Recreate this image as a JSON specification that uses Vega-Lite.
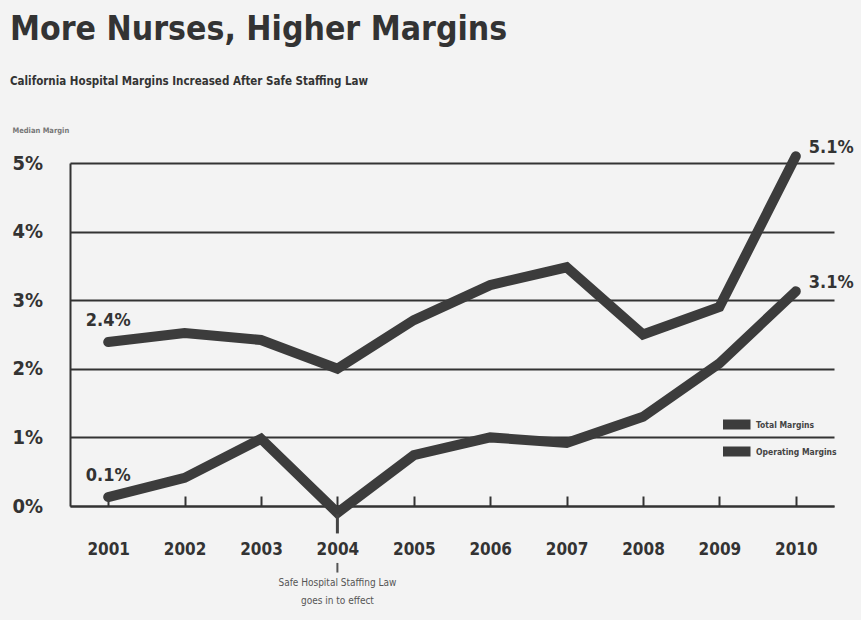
{
  "$schema": "https://vega.github.io/schema/vega-lite/v6.json",
  "autosize": {"type": "none"},
  "width": 764,
  "height": 343,
  "padding": {"left": 70, "top": 163, "right": 27, "bottom": 114},
  "background": "#f3f3f3",
  "config": {
    "view": {"stroke": null},
    "font": "DejaVu Sans Condensed, Roboto, sans-serif",
    "text": {"font": "DejaVu Sans Condensed, Roboto, sans-serif"}
  },
  "title": {
    "text": "More Nurses, Higher Margins",
    "subtitle": "California Hospital Margins Increased After Safe Staffing Law",
    "anchor": "start",
    "frame": "group",
    "dx": -60,
    "offset": 38,
    "font": "DejaVu Sans Condensed, Roboto, sans-serif",
    "fontSize": 33.5,
    "fontWeight": "bold",
    "color": "#333333",
    "subtitleFont": "DejaVu Sans Condensed, Roboto, sans-serif",
    "subtitleFontSize": 11.5,
    "subtitleFontWeight": "bold",
    "subtitleColor": "#333333",
    "subtitlePadding": 28
  },
  "datasets": {
    "margins": [
      {"year": "2001", "series": "Total Margins", "value": 0.0239},
      {"year": "2002", "series": "Total Margins", "value": 0.0252},
      {"year": "2003", "series": "Total Margins", "value": 0.0242},
      {"year": "2004", "series": "Total Margins", "value": 0.0200},
      {"year": "2005", "series": "Total Margins", "value": 0.0271},
      {"year": "2006", "series": "Total Margins", "value": 0.0322},
      {"year": "2007", "series": "Total Margins", "value": 0.0348},
      {"year": "2008", "series": "Total Margins", "value": 0.0250},
      {"year": "2009", "series": "Total Margins", "value": 0.0290},
      {"year": "2010", "series": "Total Margins", "value": 0.0510},
      {"year": "2001", "series": "Operating Margins", "value": 0.0013},
      {"year": "2002", "series": "Operating Margins", "value": 0.0041},
      {"year": "2003", "series": "Operating Margins", "value": 0.0098},
      {"year": "2004", "series": "Operating Margins", "value": -0.0010},
      {"year": "2005", "series": "Operating Margins", "value": 0.0074},
      {"year": "2006", "series": "Operating Margins", "value": 0.0100},
      {"year": "2007", "series": "Operating Margins", "value": 0.0092},
      {"year": "2008", "series": "Operating Margins", "value": 0.0130},
      {"year": "2009", "series": "Operating Margins", "value": 0.0208},
      {"year": "2010", "series": "Operating Margins", "value": 0.0313}
    ],
    "note": [
      {"year": "2004", "note": ["Safe Hospital Staffing Law", "goes in to effect"]}
    ]
  },
  "encoding": {
    "x": {
      "field": "year",
      "type": "ordinal",
      "scale": {"type": "point", "padding": 0.5},
      "axis": {
        "title": null,
        "labelAngle": 0,
        "labelFontSize": 17,
        "labelFontWeight": "bold",
        "labelColor": "#333333",
        "labelBaseline": "top",
        "labelPadding": 45,
        "tickSize": -10,
        "tickWidth": 2,
        "tickColor": "#333333",
        "domainColor": "#333333",
        "domainWidth": 2,
        "grid": false
      }
    }
  },
  "layer": [
    {
      "data": {"name": "margins"},
      "mark": {"type": "line", "strokeWidth": 10, "strokeCap": "round", "strokeJoin": "miter"},
      "encoding": {
        "y": {
          "field": "value",
          "type": "quantitative",
          "scale": {"domain": [0, 0.05], "nice": false, "zero": false},
          "axis": {
            "values": [0, 0.01, 0.02, 0.03, 0.04, 0.05],
            "format": ".0%",
            "title": "Median Margin",
            "titleAngle": 0,
            "titleAlign": "left",
            "titleBaseline": "middle",
            "titleX": -58,
            "titleY": -33,
            "titleFontSize": 7.5,
            "titleFontWeight": "bold",
            "titleColor": "#777777",
            "labelFontSize": 20,
            "labelFontWeight": "bold",
            "labelColor": "#333333",
            "labelAlign": "left",
            "labelBaseline": "middle",
            "labelPadding": 58,
            "ticks": false,
            "tickSize": 0,
            "domainColor": "#333333",
            "domainWidth": 2,
            "grid": true,
            "gridColor": "#333333",
            "gridWidth": 2,
            "gridOpacity": 1
          }
        },
        "color": {
          "field": "series",
          "type": "nominal",
          "scale": {"domain": ["Total Margins", "Operating Margins"], "range": ["#3c3c3c", "#3c3c3c"]},
          "legend": {
            "title": null,
            "orient": "none",
            "legendX": 653,
            "legendY": 249,
            "symbolType": "M-2,0L2,0",
            "symbolStrokeWidth": 10,
            "symbolSize": 225,
            "clipHeight": 25,
            "rowPadding": 2,
            "labelFontSize": 8.5,
            "labelFontWeight": "bold",
            "labelColor": "#444444",
            "labelOffset": 8
          }
        }
      }
    },
    {
      "data": {"name": "margins"},
      "transform": [{"filter": "datum.year == '2001'"}],
      "mark": {"type": "text", "align": "center", "baseline": "middle", "dy": -21, "fontSize": 18, "fontWeight": "bold", "color": "#333333"},
      "encoding": {
        "y": {"field": "value", "type": "quantitative"},
        "text": {"field": "value", "type": "quantitative", "format": ".1%"}
      }
    },
    {
      "data": {"name": "margins"},
      "transform": [{"filter": "datum.year == '2010'"}],
      "mark": {"type": "text", "align": "left", "baseline": "middle", "dx": 13, "dy": -8, "fontSize": 18, "fontWeight": "bold", "color": "#333333"},
      "encoding": {
        "y": {"field": "value", "type": "quantitative"},
        "text": {"field": "value", "type": "quantitative", "format": ".1%"}
      }
    },
    {
      "data": {"name": "note"},
      "mark": {"type": "rule", "strokeWidth": 3, "color": "#444444"},
      "encoding": {"y": {"datum": -0.0012}, "y2": {"datum": -0.004}}
    },
    {
      "data": {"name": "note"},
      "mark": {"type": "rule", "strokeWidth": 2, "color": "#555555"},
      "encoding": {"y": {"datum": -0.0083}, "y2": {"datum": -0.0097}}
    },
    {
      "data": {"name": "note"},
      "mark": {"type": "text", "align": "center", "baseline": "top", "dy": 72, "fontSize": 10, "lineHeight": 18, "color": "#555555"},
      "encoding": {"y": {"datum": 0}, "text": {"field": "note"}}
    }
  ]
}
